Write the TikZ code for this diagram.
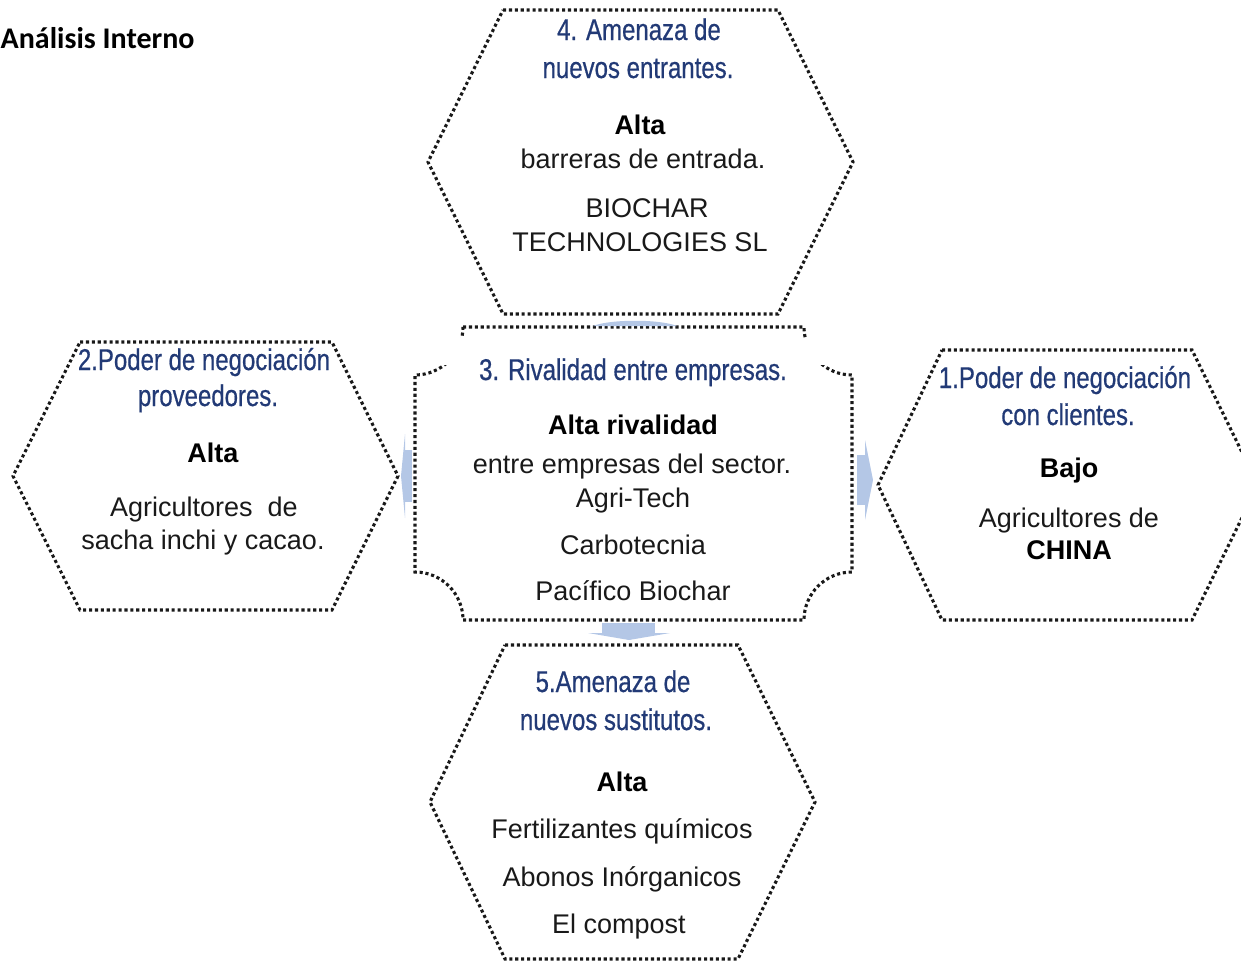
\documentclass[tikz,border=0pt]{standalone}
\usepackage{fontspec}
\setmainfont{Liberation Sans}
\newfontfamily\condfont[FakeStretch=0.8,FakeBold=0.6]{Liberation Sans}
\newfontfamily\calibrifont{Carlito}
\definecolor{navy}{RGB}{34,58,118}
\definecolor{txt}{RGB}{25,25,25}
\definecolor{arrowblue}{RGB}{180,199,230}
\begin{document}
\begin{tikzpicture}[x=1pt,y=-1pt,
  dotline/.style={draw=black!90, line width=3.1pt, dash pattern=on 3.1pt off 2.8pt},
  ttl/.style={anchor=base, text=navy, font=\condfont\fontsize{30}{34}\selectfont, inner sep=0pt},
  body/.style={anchor=base, text=txt, font=\fontsize{27}{32}\selectfont, inner sep=0pt},
  bodyb/.style={anchor=base, text=black, font=\bfseries\fontsize{27}{32}\selectfont, inner sep=0pt},
  blockarrow/.style={fill=arrowblue, draw=none}]
\useasboundingbox (0,0) rectangle (1241,961);
\clip (0,0) rectangle (1241,961);

% title
\node[anchor=base west, inner sep=0pt, font=\calibrifont\bfseries\fontsize{30}{35}\selectfont] (title) at (0.5,48) {Análisis Interno};

% hexagons
\draw[dotline] (503,10) -- (778,10) -- (853,162) -- (778,314) -- (503,314) -- (428,162) -- cycle;
\draw[dotline] (80,342) -- (332,342) -- (398,476) -- (332,610) -- (80,610) -- (13,476) -- cycle;
\draw[dotline] (942,350) -- (1192,350) -- (1258,485) -- (1192,620) -- (942,620) -- (878,485) -- cycle;
\draw[dotline] (505,645) -- (738,645) -- (815,802) -- (738,959) -- (505,959) -- (430,802) -- cycle;

% central plaque
\draw[dotline] (463,327) -- (804,327)
  .. controls (804,353.5) and (825.5,375) .. (852,375)
  -- (852,572)
  .. controls (825.5,572) and (804,593.5) .. (804,620)
  -- (463,620)
  .. controls (463,593.5) and (441.5,572) .. (415,572)
  -- (415,375)
  .. controls (441.5,375) and (463,353.5) .. (463,327) -- cycle;
\fill[white] (441,338) rectangle (826,365);

% block arrows
\fill[blockarrow] (593,326) .. controls (610,319) and (660,319) .. (677,326) -- cycle;
\fill[blockarrow] (602,623) rectangle (655,633);
\fill[blockarrow] (588,633) -- (670,633) -- (629,640) -- cycle;
\fill[blockarrow] (405,450) rectangle (412,502);
\fill[blockarrow] (405,434) -- (405,518) -- (401,476) -- cycle;
\fill[blockarrow] (857,455) rectangle (866,505);
\fill[blockarrow] (865,440) -- (865,520) -- (873,480) -- cycle;

% 4
\node[ttl] (t4a) at (639,40) {4. Amenaza de};
\node[ttl] (t4b) at (638,78) {nuevos entrantes.};
\node[bodyb] (t4c) at (640,134) {Alta};
\node[body] (t4d) at (643,168) {barreras de entrada.};
\node[body] (t4e) at (647,217) {BIOCHAR};
\node[body] (t4f) at (640,251) {TECHNOLOGIES SL};

% 3
\node[ttl] (t3a) at (633,380) {3. Rivalidad entre empresas.};
\node[bodyb] (t3b) at (633,434) {Alta rivalidad};
\node[body] (t3c) at (632,473) {entre empresas del sector.};
\node[body] (t3d) at (633,507) {Agri-Tech};
\node[body] (t3e) at (633,554) {Carbotecnia};
\node[body] (t3f) at (633,600) {Pacífico Biochar};

% 2
\node[ttl] (t2a) at (204,370) {2.Poder de negociación};
\node[ttl] (t2b) at (208,406) {proveedores.};
\node[bodyb] (t2c) at (213,462) {Alta};
\node[body] (t2d) at (204,516) {Agricultores\ \ de};
\node[body] (t2e) at (203,549) {sacha inchi y cacao.};

% 1
\node[ttl] (t1a) at (1065,388) {1.Poder de negociación};
\node[ttl] (t1b) at (1068,425) {con clientes.};
\node[bodyb] (t1c) at (1069,477) {Bajo};
\node[body] (t1d) at (1069,527) {Agricultores de};
\node[bodyb] (t1e) at (1069,559) {CHINA};

% 5
\node[ttl] (t5a) at (613,692) {5.Amenaza de};
\node[ttl] (t5b) at (616,730) {nuevos sustitutos.};
\node[bodyb] (t5c) at (622,791) {Alta};
\node[body] (t5d) at (622,838) {Fertilizantes químicos};
\node[body] (t5e) at (622,886) {Abonos Inórganicos};
\node[body] (t5f) at (619,933) {El compost};
\end{tikzpicture}
\end{document}
